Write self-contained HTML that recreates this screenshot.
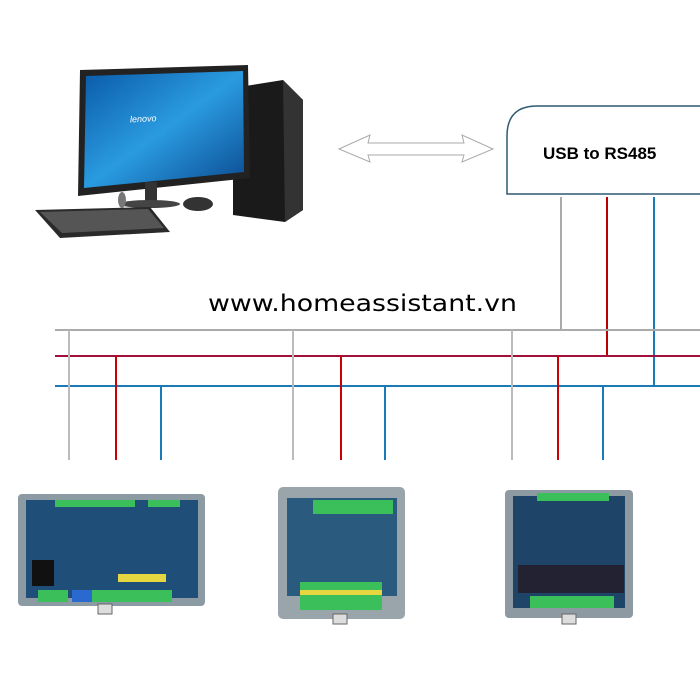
<!DOCTYPE html>
<html><head><style>
html,body{margin:0;padding:0;background:#fff;width:700px;height:700px;overflow:hidden}
</style></head><body>
<svg width="700" height="700" viewBox="0 0 700 700" xmlns="http://www.w3.org/2000/svg" style="position:absolute;left:0;top:0">
<defs>
<linearGradient id="scr" x1="0" y1="0" x2="1" y2="1">
<stop offset="0" stop-color="#0a5aa8"/><stop offset="0.5" stop-color="#2a9be0"/><stop offset="1" stop-color="#0b4a90"/>
</linearGradient>
</defs>
<!-- computer -->
<polygon points="233,88 283,80 303,100 303,210 285,222 233,215" fill="#1a1a1a"/>
<polygon points="283,80 303,100 303,210 285,222" fill="#333"/>
<polygon points="80,70 248,65 250,178 78,196" fill="#222"/>
<polygon points="86,76 243,71 244,172 84,188" fill="url(#scr)"/>
<text x="130" y="122" fill="#fff" font-family="Liberation Sans,sans-serif" font-size="9" font-style="italic" transform="rotate(-3 140 120)">lenovo</text>
<rect x="145" y="182" width="12" height="20" fill="#333"/>
<ellipse cx="150" cy="204" rx="30" ry="4" fill="#444"/>
<polygon points="35,210 150,207 170,232 60,238" fill="#2a2a2a"/>
<polygon points="40,212 148,209 164,228 62,233" fill="#555"/>
<ellipse cx="198" cy="204" rx="15" ry="7" fill="#333"/>
<ellipse cx="122" cy="200" rx="4" ry="8" fill="#777"/>
<!-- arrow -->
<polygon points="339,149 370,135 368,143 464,143 462,135 493,149 462,162 464,155 368,155 370,162" fill="#fff" stroke="#aaa" stroke-width="1"/>
<!-- usb box -->
<path d="M507,194 L507,136 Q507,106 537,106 L702,106 L702,194 Z" fill="#fff" stroke="#2e5a73" stroke-width="1.5"/>
<text x="543" y="159" font-family="Liberation Sans,sans-serif" font-size="17" font-weight="bold" fill="#000">USB to RS485</text>
<text x="208" y="311" font-family="DejaVu Sans,sans-serif" font-size="23" fill="#000" textLength="309" lengthAdjust="spacingAndGlyphs">www.homeassistant.vn</text>
<!-- bus lines -->
<g stroke-width="2" fill="none">
<line x1="561" y1="197" x2="561" y2="330" stroke="#aaa"/>
<line x1="607" y1="197" x2="607" y2="356" stroke="#b00"/>
<line x1="654" y1="197" x2="654" y2="386" stroke="#1a7ab8"/>
<line x1="55" y1="330" x2="700" y2="330" stroke="#aaa"/>
<line x1="55" y1="356" x2="700" y2="356" stroke="#a0103a"/>
<line x1="55" y1="386" x2="700" y2="386" stroke="#1a7ab8"/>
<line x1="69" y1="330" x2="69" y2="460" stroke="#bbb"/>
<line x1="293" y1="330" x2="293" y2="460" stroke="#bbb"/>
<line x1="512" y1="330" x2="512" y2="460" stroke="#bbb"/>
<line x1="116" y1="356" x2="116" y2="460" stroke="#c00"/>
<line x1="341" y1="356" x2="341" y2="460" stroke="#c00"/>
<line x1="558" y1="356" x2="558" y2="460" stroke="#c00"/>
<line x1="161" y1="386" x2="161" y2="460" stroke="#1a7ab8"/>
<line x1="385" y1="386" x2="385" y2="460" stroke="#1a7ab8"/>
<line x1="603" y1="386" x2="603" y2="460" stroke="#1a7ab8"/>
</g>
<!-- boards -->
<g>
<rect x="18" y="494" width="187" height="112" rx="4" fill="#8c9aa3"/>
<rect x="26" y="500" width="172" height="98" fill="#1f4f78"/>
<rect x="55" y="500" width="80" height="7" fill="#3bbf5a"/>
<rect x="148" y="500" width="32" height="7" fill="#3bbf5a"/>
<rect x="38" y="590" width="30" height="12" fill="#3bbf5a"/>
<rect x="72" y="590" width="20" height="12" fill="#2a6ad0"/>
<rect x="92" y="590" width="80" height="12" fill="#3bbf5a"/>
<rect x="32" y="560" width="22" height="26" fill="#111"/>
<rect x="118" y="574" width="48" height="8" fill="#e6d640"/>
<rect x="98" y="604" width="14" height="10" fill="#ddd" stroke="#666"/>
<rect x="278" y="487" width="127" height="132" rx="5" fill="#9aa5ab"/>
<rect x="287" y="498" width="110" height="98" fill="#2a5a7e"/>
<rect x="313" y="500" width="80" height="14" fill="#3bbf5a"/>
<rect x="300" y="582" width="82" height="28" fill="#3bbf5a"/>
<rect x="300" y="590" width="82" height="5" fill="#e6d640"/>
<rect x="333" y="614" width="14" height="10" fill="#ddd" stroke="#666"/>
<rect x="505" y="490" width="128" height="128" rx="4" fill="#8d9aa2"/>
<rect x="513" y="496" width="112" height="112" fill="#1e4468"/>
<rect x="537" y="493" width="72" height="8" fill="#3bbf5a"/>
<rect x="518" y="565" width="106" height="28" fill="#223"/>
<rect x="530" y="596" width="84" height="12" fill="#3bbf5a"/>
<rect x="562" y="614" width="14" height="10" fill="#ddd" stroke="#666"/>
</g>
</svg>
</body></html>
